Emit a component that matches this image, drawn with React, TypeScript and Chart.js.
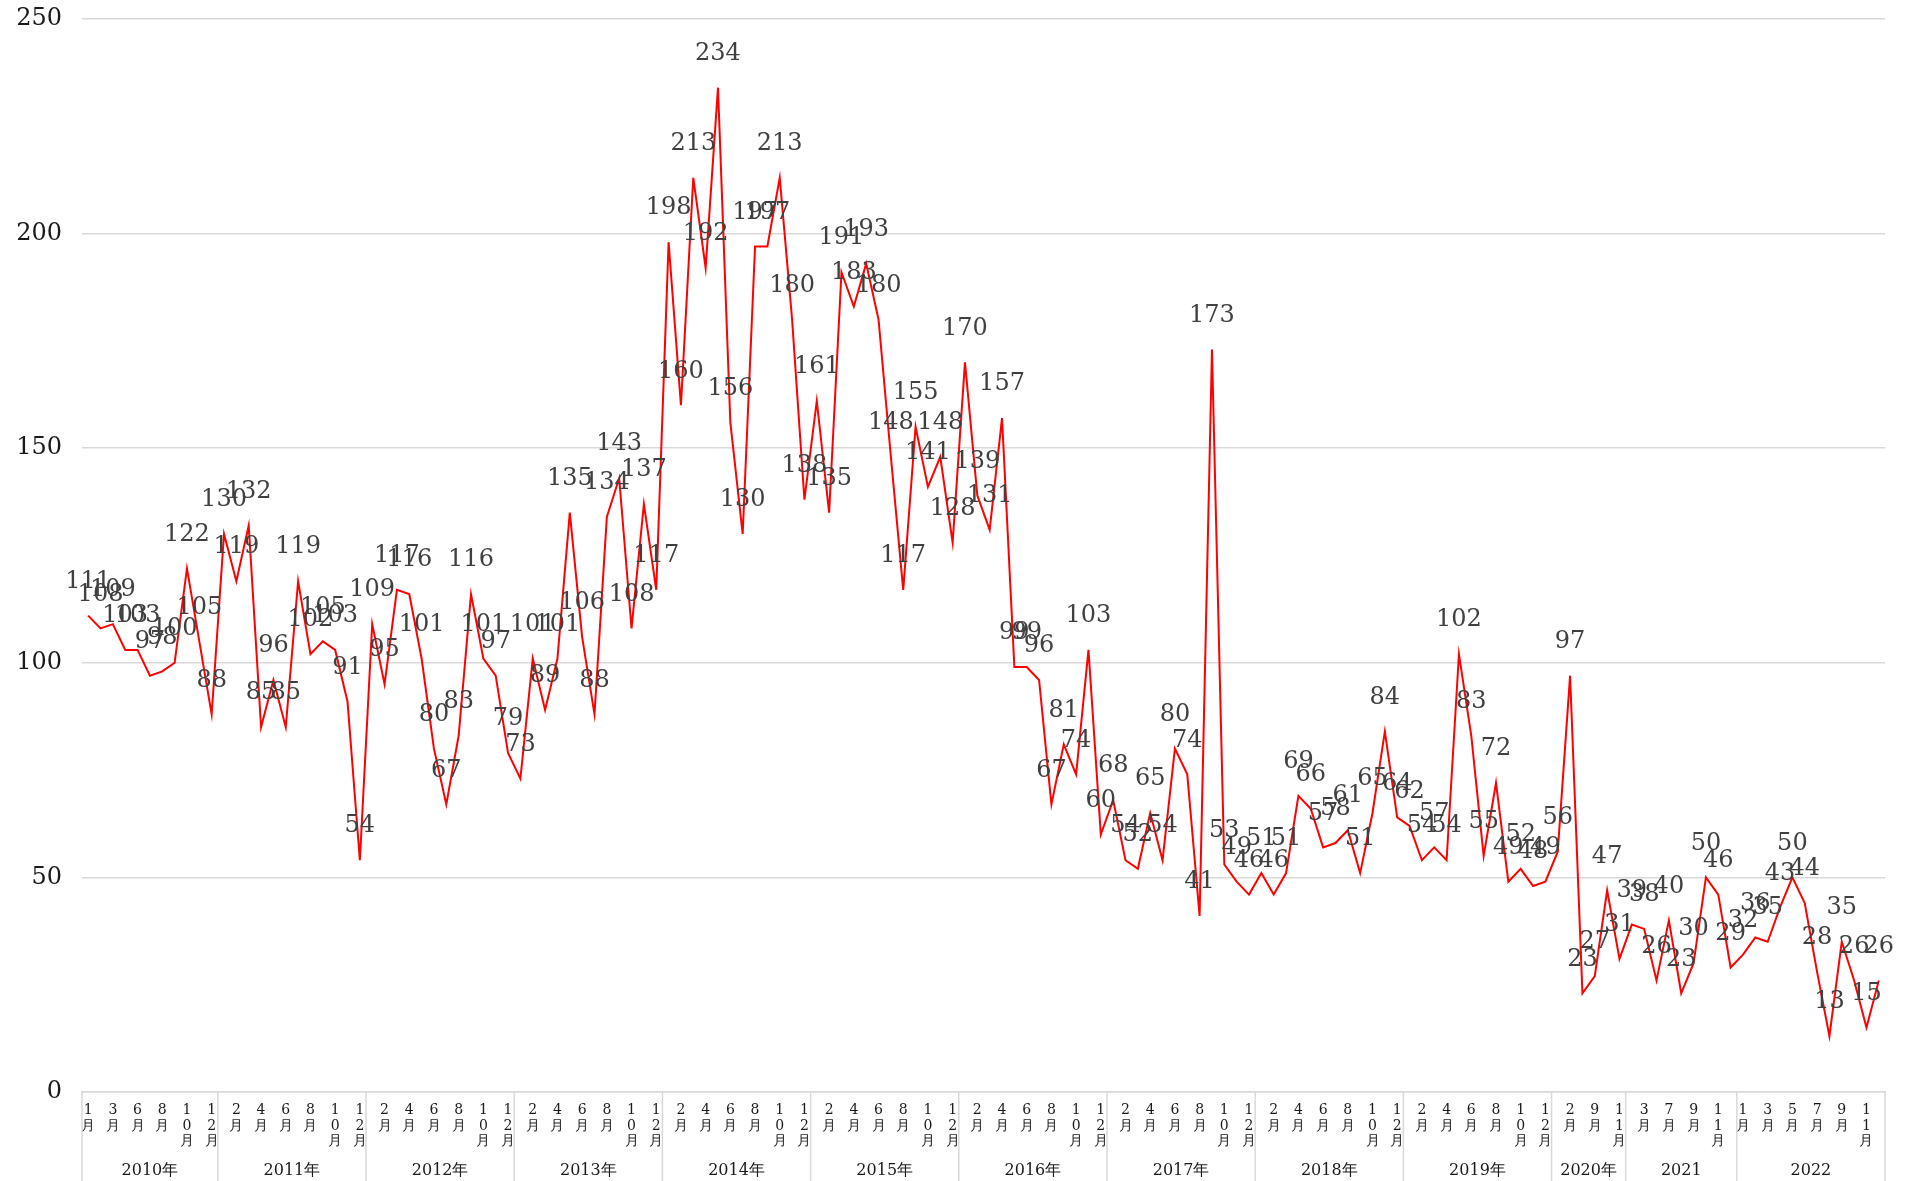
import React, { useEffect, useRef } from 'react';
import { Chart, registerables } from 'chart.js';

Chart.register(...registerables);

// ---- data ----
const yearLabels = ['2010年', '2011年', '2012年', '2013年', '2014年', '2015年', '2016年', '2017年', '2018年', '2019年', '2020年', '2021', '2022'];

const full = [1, 2, 3, 4, 5, 6, 7, 8, 9, 10, 11, 12];
const monthsByYear: number[][] = [
  [1, 2, 3, 5, 6, 7, 8, 9, 10, 11, 12],
  full, full, full, full, full, full, full, full, full,
  [1, 2, 8, 9, 10, 11],
  [2, 3, 5, 7, 8, 9, 10, 11, 12],
  full,
];

const v2010 = [111, 108, 109, 103, 103, 97, 98, 100, 122, 105, 88];
const v2011 = [130, 119, 132, 85, 96, 85, 119, 102, 105, 103, 91, 54];
const v2012 = [109, 95, 117, 116, 101, 80, 67, 83, 116, 101, 97, 79];
const v2013 = [73, 101, 89, 101, 135, 106, 88, 134, 143, 108, 137, 117];
const v2014 = [198, 160, 213, 192, 234, 156, 130, 197, 197, 213, 180, 138];
const v2015 = [161, 135, 191, 183, 193, 180, 148, 117, 155, 141, 148, 128];
const v2016 = [170, 139, 131, 157, 99, 99, 96, 67, 81, 74, 103, 60];
const v2017 = [68, 54, 52, 65, 54, 80, 74, 41, 173, 53, 49, 46];
const v2018 = [51, 46, 51, 69, 66, 57, 58, 61, 51, 65, 84, 64];
const v2019 = [62, 54, 57, 54, 102, 83, 55, 72, 49, 52, 48, 49];
const v2020 = [56, 97, 23, 27, 47, 31];
const v2021 = [39, 38, 26, 40, 23, 30, 50, 46, 29];
const v2022 = [32, 36, 35, 43, 50, 44, 28, 13, 35, 26, 15, 26];

const valuesByYear = [v2010, v2011, v2012, v2013, v2014, v2015, v2016, v2017, v2018, v2019, v2020, v2021, v2022];

const yTicks = [0, 50, 100, 150, 200, 250];

// ---- derived ----
const monthLabels: string[] = monthsByYear.flatMap((ms) => ms.map((m) => `${m}月`));
const values: number[] = valuesByYear.flat();
const yearStarts: number[] = [];
{
  let acc = 0;
  for (const ms of monthsByYear) {
    yearStarts.push(acc);
    acc += ms.length;
  }
}

const SERIF = '"DejaVu Serif", serif';

const dataLabelPlugin = {
  id: 'dataLabels',
  afterDatasetsDraw(chart: any) {
    const ctx = chart.ctx;
    const meta = chart.getDatasetMeta(0);
    const ds = chart.data.datasets[0];
    ctx.save();
    ctx.font = `24px ${SERIF}`;
    ctx.fillStyle = '#404040';
    ctx.textAlign = 'center';
    ctx.textBaseline = 'middle';
    meta.data.forEach((pt: any, i: number) => {
      ctx.fillText(String(ds.data[i]), pt.x, pt.y - 34);
    });
    ctx.restore();
  },
};

const yearGroupPlugin = {
  id: 'yearGroups',
  afterDraw(chart: any) {
    const ctx = chart.ctx;
    const xs = chart.scales.x;
    const area = chart.chartArea;
    const n = monthLabels.length;
    const bottom = chart.height;
    const boundary = (i: number) => {
      if (i <= 0) return area.left;
      if (i >= n) return area.right;
      return (xs.getPixelForValue(i - 1) + xs.getPixelForValue(i)) / 2;
    };
    ctx.save();
    ctx.strokeStyle = '#d9d9d9';
    ctx.lineWidth = 1.5;
    const bounds: number[] = yearStarts.map((s) => boundary(s));
    bounds.push(boundary(n));
    bounds.forEach((bx) => {
      ctx.beginPath();
      ctx.moveTo(bx, area.bottom);
      ctx.lineTo(bx, bottom);
      ctx.stroke();
    });
    ctx.font = `16px ${SERIF}`;
    ctx.fillStyle = '#1a1a1a';
    ctx.textAlign = 'center';
    ctx.textBaseline = 'middle';
    yearLabels.forEach((yl, k) => {
      const cx = (bounds[k] + bounds[k + 1]) / 2;
      ctx.fillText(yl, cx, area.bottom + 79);
    });
    ctx.restore();
  },
};

export default function App() {
  const ref = useRef<HTMLCanvasElement | null>(null);

  useEffect(() => {
    if (!ref.current) return;
    const chart = new Chart(ref.current, {
      type: 'line',
      data: {
        labels: monthLabels,
        datasets: [
          {
            data: values,
            borderColor: '#ff0000',
            backgroundColor: '#ff0000',
            borderWidth: 2,
            pointRadius: 0,
            tension: 0,
            fill: false,
          },
        ],
      },
      options: {
        responsive: false,
        animation: false,
        devicePixelRatio: 1,
        layout: { padding: { top: 19, right: 20, left: 0, bottom: 0 } },
        plugins: {
          legend: { display: false },
          tooltip: { enabled: false },
        },
        scales: {
          x: {
            type: 'category',
            offset: true,
            grid: { display: false, drawTicks: false },
            border: { display: true, color: '#d9d9d9', width: 1.5 },
            ticks: {
              autoSkip: false,
              maxRotation: 0,
              minRotation: 0,
              padding: 11,
              color: '#1a1a1a',
              font: { family: SERIF, size: 14, lineHeight: 1.1 },
              callback: (_v: any, index: number) => {
                if (index % 2 !== 0) return '';
                return Array.from(monthLabels[index]);
              },
            },
            afterFit: (scale: any) => {
              scale.height = 89;
            },
          },
          y: {
            min: 0,
            max: 250,
            afterBuildTicks: (scale: any) => {
              scale.ticks = yTicks.map((v) => ({ value: v }));
            },
            grid: {
              color: '#d9d9d9',
              lineWidth: 1.5,
              drawTicks: true,
              tickLength: 20,
              tickColor: 'rgba(0,0,0,0)',
            },
            border: { display: false },
            ticks: {
              padding: 0,
              color: '#1a1a1a',
              font: { family: SERIF, size: 24 },
            },
            afterFit: (scale: any) => {
              scale.width = 82;
            },
          },
        },
      },
      plugins: [dataLabelPlugin, yearGroupPlugin],
    });
    return () => chart.destroy();
  }, []);

  return (
    <div style={{ position: 'fixed', left: 0, top: 0, width: 1905, height: 1181, background: '#fff' }}>
      <canvas ref={ref} width={1905} height={1181} style={{ display: 'block' }} />
    </div>
  );
}
